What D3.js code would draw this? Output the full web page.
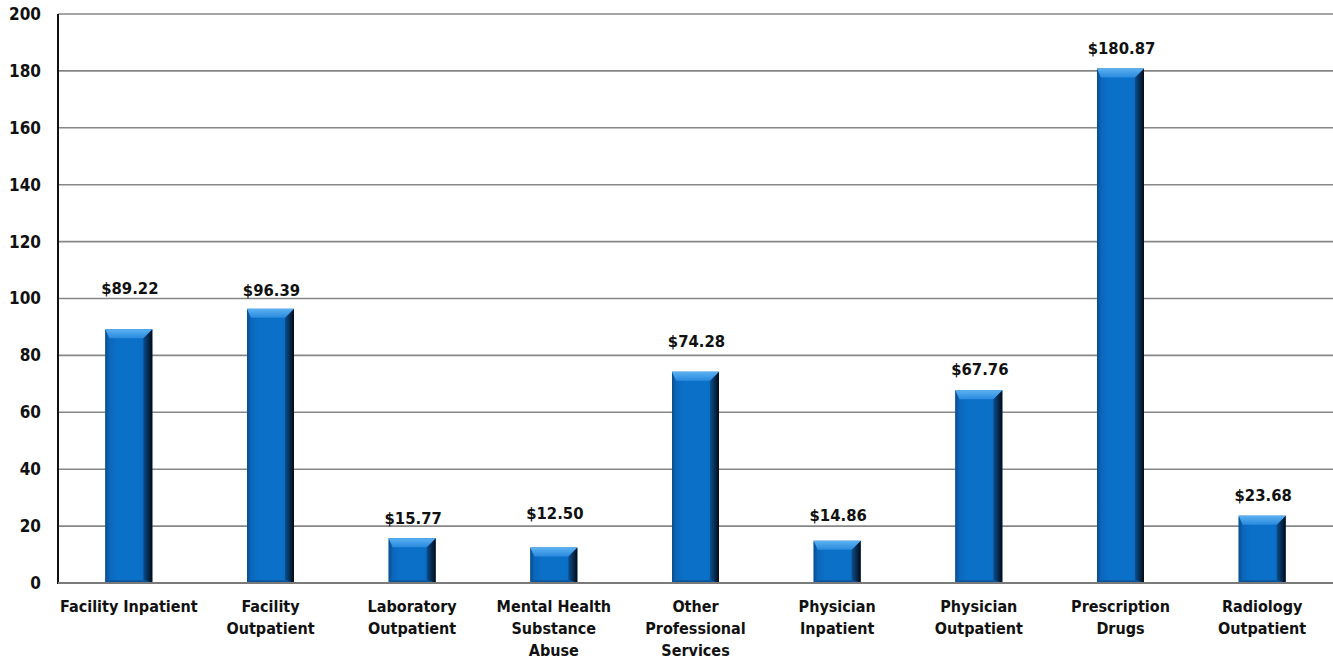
<!DOCTYPE html>
<html>
<head>
<meta charset="utf-8">
<script src="https://cdn.jsdelivr.net/npm/d3@7"></script>
<style>
  html, body { margin: 0; padding: 0; background: #fff; }
  svg { display: block; }
  text { font-family: "DejaVu Sans Condensed", "DejaVu Sans", sans-serif; font-weight: bold; fill: #111; }
</style>
</head>
<body>
<svg id="chart" width="1333" height="659"></svg>
<script>
// Per-member spend by service category
const categories = [
  ["Facility Inpatient"],
  ["Facility", "Outpatient"],
  ["Laboratory", "Outpatient"],
  ["Mental Health", "Substance", "Abuse"],
  ["Other", "Professional", "Services"],
  ["Physician", "Inpatient"],
  ["Physician", "Outpatient"],
  ["Prescription", "Drugs"],
  ["Radiology", "Outpatient"]
];
const values = [89.22, 96.39, 15.77, 12.50, 74.28, 14.86, 67.76, 180.87, 23.68];
const yTicks = [0, 20, 40, 60, 80, 100, 120, 140, 160, 180, 200];

// Vertical gap (px) between each value label baseline and its bar top
const labelGap = [35, 13, 14, 28, 25, 20, 15, 14, 15];

const W = 1333, H = 659;
const margin = { left: 58, right: 0, top: 14, bottom: 76 };
const svg = d3.select("#chart");

const x = d3.scaleBand()
  .domain(d3.range(values.length))
  .range([margin.left, W - margin.right])
  .paddingInner(0).paddingOuter(0);

const y = d3.scaleLinear()
  .domain([0, 200])
  .range([H - margin.bottom, margin.top]);

// Gradients for the bevelled bars
const defs = svg.append("defs");
function lin(id, x1, y1, x2, y2, stops) {
  const g = defs.append("linearGradient").attr("id", id)
    .attr("x1", x1).attr("y1", y1).attr("x2", x2).attr("y2", y2);
  stops.forEach(s => g.append("stop").attr("offset", s[0]).attr("stop-color", s[1]));
}
lin("face", 0, 0, 1, 0, [[0, "#0a62b3"], [0.25, "#0b70c8"], [0.75, "#0b70c8"], [1, "#0a5fae"]]);
lin("topBevel", 0, 0, 0, 1, [[0, "#5cb2f2"], [1, "#2a8ade"]]);
lin("rightBevel", 0, 0, 1, 0, [[0, "#0a4f90"], [0.55, "#072a4d"], [1, "#020a14"]]);
lin("leftBevel", 0, 0, 1, 0, [[0, "#0a4c8c"], [1, "#0b66b8"]]);
lin("bottomBevel", 0, 0, 0, 1, [[0, "#0a5da8"], [1, "#093f74"]]);

// Gridlines
svg.append("g").attr("class", "grid")
  .selectAll("line").data(yTicks).join("line")
  .attr("x1", margin.left).attr("x2", W - margin.right)
  .attr("y1", d => y(d)).attr("y2", d => y(d))
  .attr("stroke", "#878787").attr("stroke-width", 1.6);

// Y axis
const yAxis = svg.append("g")
  .attr("transform", `translate(${margin.left},0)`)
  .call(d3.axisLeft(y).tickValues(yTicks).tickSize(0).tickPadding(17));
yAxis.select(".domain").attr("stroke", "#111").attr("stroke-width", 2)
  .attr("d", `M0,${y(0) + 1}V${y(200)}`);
yAxis.selectAll("text").attr("font-size", 17).attr("fill", "#111")
  .style("font-family", "'DejaVu Sans Condensed','DejaVu Sans',sans-serif").style("font-weight", "bold");

// Bars
const barW = 47, bev = 9;
const bars = svg.append("g").selectAll("g").data(values).join("g");
bars.each(function (v, i) {
  const g = d3.select(this);
  const cx = x(i) + x.bandwidth() / 2;
  const x0 = cx - barW / 2, x1 = cx + barW / 2;
  const y0 = y(v), yb = y(0);
  const b = Math.min(bev, (yb - y0) / 2);
  const bb = Math.min(3, b);
  const lb = 4;
  g.append("rect").attr("x", x0).attr("y", y0).attr("width", barW).attr("height", yb - y0)
    .attr("fill", "url(#face)");
  g.append("polygon")
    .attr("points", [[x0, y0], [x0 + lb, y0 + b], [x0 + lb, yb - bb], [x0, yb]].join(" "))
    .attr("fill", "url(#leftBevel)");
  g.append("polygon")
    .attr("points", [[x1, y0], [x1, yb], [x1 - b, yb - bb], [x1 - b, y0 + b]].join(" "))
    .attr("fill", "url(#rightBevel)");
  g.append("polygon")
    .attr("points", [[x0, yb], [x1, yb], [x1 - b, yb - bb], [x0 + lb, yb - bb]].join(" "))
    .attr("fill", "url(#bottomBevel)").attr("opacity", 0.8);
  g.append("polygon")
    .attr("points", [[x0, y0], [x1, y0], [x1 - b, y0 + b], [x0 + lb, y0 + b]].join(" "))
    .attr("fill", "url(#topBevel)");
});

// Baseline drawn over bars
svg.append("line")
  .attr("x1", margin.left).attr("x2", W - margin.right)
  .attr("y1", y(0)).attr("y2", y(0))
  .attr("stroke", "#7a7a7a").attr("stroke-width", 2);

// Value labels
svg.append("g").selectAll("text").data(values).join("text")
  .attr("x", (d, i) => x(i) + x.bandwidth() / 2 + 1)
  .attr("y", (d, i) => y(d) - labelGap[i])
  .attr("text-anchor", "middle")
  .attr("font-size", 16.5)
  .text(d => "$" + d.toFixed(2));

// Category labels
const cat = svg.append("g").selectAll("text").data(categories).join("text")
  .attr("x", (d, i) => x(i) + x.bandwidth() / 2)
  .attr("y", y(0) + 29)
  .attr("text-anchor", "middle")
  .attr("font-size", 16);
cat.selectAll("tspan").data(d => d).join("tspan")
  .attr("x", function () { return d3.select(this.parentNode).attr("x"); })
  .attr("dy", (d, j) => j === 0 ? 0 : 22)
  .text(d => d);
</script>
</body>
</html>
